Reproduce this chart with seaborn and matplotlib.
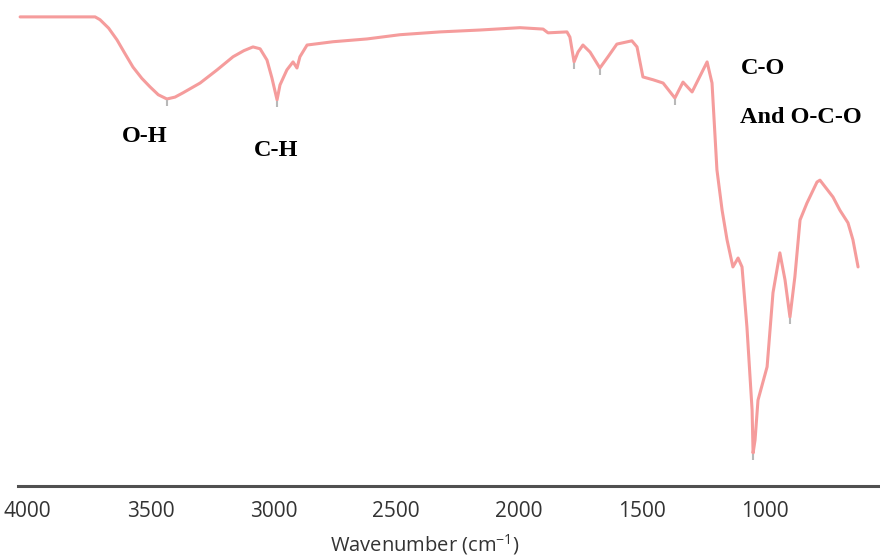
import numpy as np
import pandas as pd
import matplotlib
matplotlib.use("Agg")
import matplotlib.pyplot as plt
import seaborn as sns

# ---- data ----
wavenumber = [4030, 3868, 3725, 3705, 3670, 3636, 3605, 3571, 3535, 3502, 3468, 3433,
              3400, 3368, 3298, 3229, 3164, 3120,
              3083, 3054, 3026, 3006, 2985, 2973, 2945, 2920, 2904, 2892, 2863, 2758,
              2619, 2485, 2322, 2160, 1997, 1903, 1883, 1806, 1794, 1777, 1761, 1741,
              1712, 1672, 1639, 1603, 1542, 1521, 1497, 1456, 1415, 1367, 1334, 1297,
              1236, 1216, 1196, 1175, 1155, 1131, 1110, 1094, 1074, 1053, 1049, 1041,
              1029, 992, 968, 940, 919, 899, 879, 858, 830, 789, 777, 724, 696, 663,
              643, 622]
transmittance = [100.0, 100.0, 100.0, 99.4, 97.6, 95.1, 92.3, 89.3, 86.9, 85.1, 83.4, 82.5,
                 82.9, 83.8, 85.9, 88.7, 91.5, 92.8,
                 93.6, 93.2, 90.8, 87.0, 82.3, 85.5, 88.7, 90.4, 89.1, 91.5, 94.0, 94.7,
                 95.3, 96.2, 96.8, 97.2, 97.7, 97.4, 96.6, 96.8, 95.7, 90.4, 92.5, 94.0,
                 92.5, 89.1, 91.5, 94.2, 94.9, 93.6, 87.2, 86.6, 85.9, 82.7, 86.1, 84.0,
                 90.4, 85.9, 67.4, 58.8, 52.5, 46.7, 48.6, 46.7, 33.9, 16.2, 7.0, 9.8,
                 18.3, 25.4, 41.2, 49.7, 43.9, 36.0, 44.6, 56.7, 60.3, 64.8, 65.2, 61.6,
                 58.8, 56.1, 52.5, 46.7]
peak_marks = [3433, 2985, 1777, 1672, 1367, 1049, 899]
tick_values = [4000, 3500, 3000, 2500, 2000, 1500, 1000]
tick_labels = ["4000", "3500", "3000", "2500", "2000", "1500", "1000"]
annotations = [("O-H", 3522, 74.6), ("C-H", 2990, 71.6),
               ("C-O", 1010, 88.9), ("And O-C-O", 1102, 78.6)]
annot_align = ["center", "center", "center", "left"]
xlabel = "Wavenumber (cm$^{-1}$)"

df = pd.DataFrame({"wn": wavenumber, "T": transmittance})

sns.set_style("white")
plt.rcParams["font.family"] = ["Open Sans", "DejaVu Sans"]
plt.rcParams["mathtext.fontset"] = "custom"
plt.rcParams["mathtext.rm"] = "Open Sans"
plt.rcParams["mathtext.it"] = "Open Sans"

fig = plt.figure(figsize=(8.8, 5.58), dpi=100)
ax = fig.add_axes([18 / 880, 72 / 558, 862 / 880, 486 / 558])

sns.lineplot(data=df, x="wn", y="T", ax=ax, color="#f59c9c", linewidth=2.2)

pm_T = np.interp(peak_marks, wavenumber[::-1], transmittance[::-1])
ax.plot(peak_marks, pm_T - 0.8, linestyle="none", marker="|", markersize=5,
        markeredgewidth=1.5, color="#b8b8b8")

for (txt, x, y), ha in zip(annotations, annot_align):
    ax.text(x, y, txt, ha=ha, va="center", fontsize=17.5, fontweight="bold",
            family="Liberation Serif", color="black")

ax.set_xlim(4038.6, 532.8)
ax.set_ylim(0, 103.6)
ax.set_xticks(tick_values)
ax.set_xticklabels(tick_labels)
ax.set_yticks([])
ax.tick_params(axis="x", length=0, pad=11, labelsize=15, labelcolor="#333333")
ax.set_xlabel(xlabel, fontsize=14.5, color="#333333")
ax.xaxis.set_label_coords(0.472, -0.094)
ax.set_ylabel("")

for s in ["top", "left", "right"]:
    ax.spines[s].set_visible(False)
ax.spines["bottom"].set_color("#505050")
ax.spines["bottom"].set_linewidth(2.2)

fig.savefig("out.png", dpi=100)
